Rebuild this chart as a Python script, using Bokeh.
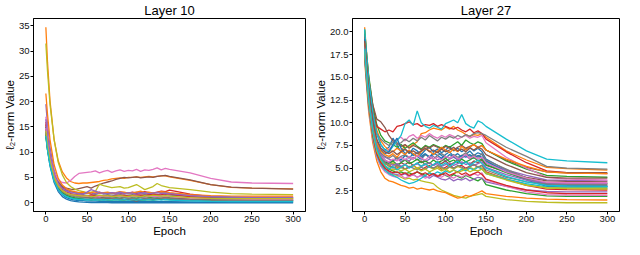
from bokeh.plotting import figure
from bokeh.layouts import row
from bokeh.models import FixedTicker, Range1d, PrintfTickFormatter
from bokeh.embed import file_html
from bokeh.resources import INLINE

# ---------------- data ----------------
EPOCHS = [0, 2, 5, 10, 15, 20, 25, 30, 35, 40,
          45, 50, 55, 60, 65, 70, 75, 80, 85, 90,
          95, 100, 105, 110, 115, 120, 125, 130, 135, 140,
          145, 150, 175, 200, 225, 250, 300]

TITLES = ["Layer 10", "Layer 27"]
X_LABEL = "Epoch"
Y_LABEL = "ℓ₂-norm Value"
X_TICKS = [0, 50, 100, 150, 200, 250, 300]
Y_TICKS_L10 = [0, 5, 10, 15, 20, 25, 30, 35]
Y_TICKS_L27 = [2.5, 5.0, 7.5, 10.0, 12.5, 15.0, 17.5, 20.0]

# Layer 10 series
l10_00 = [13.5, 10.5, 7.3, 4.0, 2.2, 1.2, 0.7, 0.4, 0.25, 0.15,
          0.1, 0.06, 0.04, 0.03, 0.02, 0.01, 0.01, 0.0, 0.0, 0.0,
          0.0, 0.0, 0.0, 0.0, 0.0, 0.0, 0.0, 0.0, 0.0, 0.0,
          0.0, 0.0, 0.0, 0.0, 0.0, 0.0, 0.0]
l10_01 = [34.7, 27.8, 20.2, 12.5, 8.3, 6.1, 4.9, 4.2, 3.9, 3.8,
          3.9, 3.9, 4.0, 4.1, 4.2, 4.4, 4.5, 4.7, 4.8, 4.9,
          4.8, 5.0, 5.0, 5.1, 5.0, 5.1, 5.2, 5.1, 5.2, 5.3,
          5.3, 5.1, 4.4, 3.6, 3.05, 2.9, 2.75]
l10_02 = [13.0, 10.5, 7.8, 4.8, 3.0, 2.0, 1.4, 1.0, 0.8, 0.7,
          0.6, 0.6, 0.5, 0.6, 0.5, 0.6, 0.5, 0.5, 0.6, 0.5,
          0.5, 0.6, 0.5, 0.6, 0.5, 0.5, 0.6, 0.5, 0.6, 0.7,
          0.6, 0.6, 0.5, 0.45, 0.4, 0.4, 0.4]
l10_03 = [16.0, 13.0, 9.5, 6.0, 4.0, 3.0, 2.5, 2.2, 2.0, 1.9,
          1.8, 2.0, 1.7, 1.9, 2.1, 1.8, 1.9, 2.0, 1.7, 1.8,
          2.0, 1.9, 2.1, 1.8, 2.0, 2.2, 2.0, 1.9, 2.1, 2.3,
          2.2, 2.5, 1.7, 1.2, 1.0, 0.95, 0.9]
l10_04 = [19.5, 15.5, 11.0, 6.5, 4.3, 3.2, 2.6, 2.3, 2.1, 2.0,
          1.9, 1.8, 2.0, 1.7, 1.9, 1.8, 2.0, 1.8, 1.7, 1.9,
          2.0, 1.8, 1.9, 2.1, 1.9, 1.8, 2.0, 1.9, 2.0, 2.1,
          2.0, 1.9, 1.5, 1.3, 1.15, 1.1, 1.1]
l10_05 = [15.0, 12.2, 9.0, 5.6, 3.9, 3.2, 2.9, 2.7, 2.6, 2.8,
          3.0, 3.2, 2.9, 3.3, 3.6, 3.9, 4.1, 4.3, 4.6, 4.8,
          5.0, 4.9, 5.0, 5.1, 4.9, 5.0, 5.1, 5.0, 5.2, 5.3,
          5.4, 5.2, 4.5, 3.6, 3.1, 2.9, 2.7]
l10_06 = [17.0, 13.5, 9.5, 6.0, 4.5, 4.0, 3.9, 4.4, 5.2, 5.8,
          5.9, 6.0, 6.1, 6.3, 5.9, 6.2, 6.4, 6.0, 6.3, 6.5,
          6.2, 6.4, 6.3, 6.6, 6.2, 6.5, 6.4, 6.6, 6.9, 6.5,
          6.8, 6.6, 5.9, 4.8, 4.1, 3.9, 3.8]
l10_07 = [14.0, 11.2, 8.2, 5.0, 3.3, 2.4, 2.0, 1.7, 1.6, 1.5,
          1.6, 1.4, 1.5, 1.6, 1.4, 1.5, 1.6, 1.5, 1.4, 1.6,
          1.5, 1.5, 1.6, 1.4, 1.5, 1.6, 1.5, 1.4, 1.6, 1.5,
          1.6, 1.5, 1.2, 1.05, 1.0, 1.0, 1.0]
l10_08 = [31.5, 26.0, 19.5, 12.5, 8.0, 5.5, 4.0, 3.2, 2.7, 2.4,
          2.2, 2.0, 2.1, 2.2, 3.7, 3.4, 3.2, 3.0, 3.1, 3.2,
          2.9, 3.0, 3.3, 3.6, 3.1, 2.6, 2.9, 3.2, 3.8, 3.4,
          3.2, 3.0, 2.6, 2.1, 1.8, 1.7, 1.6]
l10_09 = [15.0, 12.0, 8.6, 5.0, 3.0, 2.0, 1.4, 1.1, 0.9, 0.8,
          0.8, 0.7, 0.8, 0.7, 0.8, 0.7, 0.9, 0.8, 0.7, 0.8,
          0.7, 0.8, 0.9, 0.8, 0.7, 0.8, 0.7, 0.8, 0.9, 0.8,
          0.7, 0.8, 0.5, 0.35, 0.3, 0.3, 0.3]
l10_10 = [14.0, 11.0, 7.8, 4.4, 2.6, 1.6, 1.0, 0.7, 0.5, 0.4,
          0.4, 0.3, 0.3, 0.3, 0.25, 0.3, 0.25, 0.2, 0.25, 0.2,
          0.2, 0.25, 0.2, 0.2, 0.25, 0.2, 0.2, 0.25, 0.2, 0.2,
          0.2, 0.2, 0.15, 0.1, 0.1, 0.1, 0.1]
l10_11 = [21.6, 17.5, 12.5, 7.5, 4.8, 3.5, 2.8, 2.4, 2.2, 2.0,
          2.1, 1.9, 2.0, 2.2, 1.9, 2.0, 2.1, 1.9, 2.0, 2.2,
          2.1, 1.9, 2.0, 2.1, 2.3, 2.0, 2.1, 1.9, 2.0, 2.2,
          2.1, 2.0, 1.6, 1.4, 1.3, 1.3, 1.3]
l10_12 = [13.5, 10.8, 7.9, 4.8, 3.0, 2.0, 1.5, 1.2, 1.0, 0.9,
          1.0, 1.1, 0.9, 1.0, 1.2, 1.0, 0.9, 1.1, 1.0, 0.9,
          1.1, 1.2, 1.0, 0.9, 1.1, 1.2, 1.0, 1.1, 1.3, 1.2,
          1.1, 1.0, 0.7, 0.55, 0.5, 0.5, 0.5]
l10_13 = [15.5, 12.5, 9.0, 5.5, 3.6, 2.6, 2.1, 1.8, 1.6, 1.5,
          1.4, 1.3, 1.5, 1.4, 1.2, 1.3, 1.4, 1.2, 1.3, 1.4,
          1.5, 1.3, 1.4, 1.6, 1.5, 1.4, 1.6, 1.7, 1.5, 1.6,
          1.8, 1.7, 1.2, 0.9, 0.8, 0.8, 0.75]
l10_14 = [16.5, 13.2, 9.6, 5.8, 3.8, 2.8, 2.3, 2.0, 1.9, 1.8,
          1.7, 2.1, 2.6, 2.3, 2.0, 1.9, 1.8, 2.0, 1.9, 2.1,
          1.8, 2.0, 1.9, 1.7, 1.9, 2.0, 1.8, 1.9, 2.0, 1.8,
          1.9, 1.8, 1.4, 1.2, 1.1, 1.0, 1.0]
l10_15 = [14.5, 11.6, 8.4, 5.1, 3.3, 2.4, 1.9, 1.6, 1.4, 1.3,
          1.2, 1.1, 1.0, 1.1, 0.9, 1.0, 0.8, 0.9, 0.7, 0.8,
          0.6, 0.7, 0.5, 0.3, 0.6, 0.8, 0.7, 0.6, 0.8, 0.9,
          1.0, 0.9, 0.7, 0.6, 0.55, 0.5, 0.5]
l10_16 = [14.8, 11.8, 8.6, 5.2, 3.4, 2.4, 1.9, 1.6, 1.5, 1.4,
          1.3, 1.2, 1.3, 1.1, 1.2, 1.3, 1.2, 1.1, 1.2, 1.3,
          1.2, 1.1, 1.2, 1.3, 1.2, 1.1, 1.2, 1.3, 1.2, 1.3,
          1.2, 1.2, 0.9, 0.8, 0.75, 0.7, 0.7]
l10_17 = [13.8, 11.0, 8.0, 4.8, 3.1, 2.2, 1.7, 1.4, 1.2, 1.1,
          1.0, 0.9, 1.0, 0.9, 0.8, 0.9, 1.0, 0.9, 0.8, 0.9,
          1.0, 0.9, 0.8, 0.9, 1.0, 0.9, 0.8, 0.9, 1.0, 0.9,
          0.9, 0.8, 0.6, 0.5, 0.45, 0.4, 0.4]
l10_18 = [14.2, 11.4, 8.3, 5.0, 3.3, 2.4, 1.9, 1.6, 1.5, 1.4,
          1.3, 1.4, 1.2, 1.3, 1.5, 1.3, 1.4, 1.2, 1.3, 1.4,
          1.3, 1.2, 1.4, 1.3, 1.2, 1.4, 1.3, 1.5, 1.4, 1.3,
          1.4, 1.3, 1.0, 0.85, 0.8, 0.8, 0.8]
l10_19 = [13.2, 10.4, 7.4, 4.3, 2.6, 1.7, 1.2, 0.9, 0.7, 0.6,
          0.6, 0.5, 0.6, 0.5, 0.6, 0.5, 0.6, 0.5, 0.6, 0.5,
          0.6, 0.5, 0.6, 0.5, 0.6, 0.5, 0.6, 0.5, 0.6, 0.5,
          0.6, 0.5, 0.35, 0.25, 0.2, 0.2, 0.2]

# Layer 27 series
l27_00 = [19.8, 17.6, 14.5, 11.0, 8.8, 7.6, 7.0, 7.3, 8.3, 7.5,
          6.8, 7.1, 6.6, 7.2, 6.9, 6.5, 7.0, 7.3, 6.8, 7.1,
          6.7, 7.0, 7.4, 6.9, 7.2, 6.8, 7.1, 7.3, 6.9, 7.2,
          6.8, 6.0, 4.8, 3.9, 3.2, 3.1, 3.0]
l27_01 = [20.5, 18.2, 15.0, 11.5, 9.2, 8.0, 7.4, 7.0, 6.8, 7.2,
          6.9, 7.5, 7.3, 7.6, 7.9, 8.8, 8.9, 9.2, 9.4, 9.3,
          9.2, 9.5, 9.3, 9.6, 9.2, 9.0, 8.7, 8.5, 8.7, 8.6,
          8.8, 8.4, 6.9, 5.9, 5.1, 4.95, 4.8]
l27_02 = [20.2, 18.0, 15.2, 12.0, 9.8, 8.6, 8.0, 7.8, 7.6, 7.3,
          7.6, 7.2, 7.5, 7.8, 7.4, 7.1, 7.5, 7.3, 7.6, 7.4,
          7.2, 7.5, 7.3, 7.6, 7.9, 7.5, 8.1, 7.8, 7.6, 7.9,
          7.7, 7.0, 5.8, 4.9, 4.2, 4.1, 4.0]
l27_03 = [19.0, 16.8, 13.8, 11.2, 9.6, 9.3, 9.0, 9.2, 9.0, 9.6,
          9.7, 9.9, 10.1, 9.8, 9.9, 9.6, 9.8, 9.7, 9.9, 9.6,
          9.8, 9.6, 9.4, 9.3, 9.5, 9.2, 9.0, 9.3, 8.9, 9.1,
          8.8, 8.2, 6.8, 5.6, 4.7, 4.5, 4.4]
l27_04 = [18.8, 16.5, 13.2, 9.8, 7.6, 6.6, 6.2, 6.0, 5.8, 6.1,
          5.7, 6.0, 5.8, 6.2, 5.9, 6.1, 5.7, 6.0, 6.3, 5.9,
          6.1, 5.8, 6.0, 6.2, 5.9, 6.1, 6.4, 6.0, 6.2, 6.3,
          6.1, 5.6, 4.8, 4.2, 3.7, 3.65, 3.6]
l27_05 = [19.5, 17.5, 14.8, 12.0, 10.4, 10.1, 9.5, 8.6, 8.0, 7.8,
          7.4, 7.6, 7.2, 7.5, 7.3, 7.0, 7.4, 7.2, 7.5, 7.3,
          7.1, 7.4, 7.2, 7.0, 7.3, 7.5, 7.2, 7.4, 7.6, 7.3,
          7.5, 7.0, 5.9, 5.1, 4.6, 4.5, 4.5]
l27_06 = [18.5, 16.2, 13.0, 9.8, 8.0, 7.2, 6.8, 7.0, 7.6, 8.2,
          8.4, 8.0, 8.5, 8.7, 8.3, 8.6, 8.4, 8.8, 8.5, 8.3,
          8.6, 8.4, 8.7, 8.5, 8.2, 8.4, 8.6, 8.3, 8.5, 8.4,
          8.6, 7.8, 6.2, 5.0, 4.0, 3.8, 3.7]
l27_07 = [19.0, 16.8, 13.8, 10.5, 8.8, 8.2, 7.8, 7.5, 7.9, 7.6,
          7.8, 8.2, 7.9, 8.3, 8.0, 8.4, 8.1, 8.6, 8.3, 8.0,
          8.4, 8.2, 8.5, 8.3, 8.6, 8.4, 8.7, 8.5, 8.8, 8.9,
          8.8, 8.6, 7.3, 6.3, 5.2, 5.0, 4.9]
l27_08 = [17.5, 15.0, 11.8, 8.2, 6.2, 5.3, 4.8, 4.5, 4.3, 4.2,
          4.0, 3.8, 3.9, 3.7, 3.8, 3.6, 3.5, 3.4, 3.3, 2.9,
          2.6, 2.4, 2.2, 2.0, 1.9, 1.8, 1.7, 1.9, 2.0, 2.1,
          2.2, 1.9, 1.55, 1.35, 1.25, 1.2, 1.2]
l27_09 = [20.3, 18.0, 14.8, 11.2, 8.8, 7.6, 7.0, 6.8, 7.4, 8.0,
          8.6, 9.9, 10.3, 9.7, 11.3, 10.0, 9.6, 9.4, 9.7, 9.5,
          9.3, 9.9, 10.1, 10.3, 10.0, 10.9, 9.9, 9.6, 9.4, 10.2,
          10.0, 9.6, 8.2, 6.9, 6.0, 5.8, 5.6]
l27_10 = [18.5, 16.0, 12.8, 9.4, 7.4, 6.4, 5.9, 5.6, 5.8, 6.2,
          5.9, 6.4, 6.1, 6.6, 6.3, 6.0, 6.5, 6.2, 6.7, 6.4,
          6.1, 6.5, 6.8, 6.3, 6.6, 6.2, 6.5, 6.9, 6.4, 6.7,
          6.5, 5.8, 4.6, 3.7, 3.0, 2.9, 2.8]
l27_11 = [17.0, 14.5, 11.2, 7.8, 5.8, 4.6, 3.9, 3.6, 3.5, 3.3,
          3.1, 3.0, 2.8, 2.9, 2.7, 2.8, 2.7, 2.6, 2.7, 2.5,
          2.4, 2.3, 2.1, 1.9, 1.7, 1.8, 2.0, 1.9, 2.1, 2.3,
          2.5, 2.2, 1.9, 1.7, 1.6, 1.55, 1.5]
l27_12 = [17.8, 15.4, 12.2, 8.8, 6.8, 5.8, 5.2, 4.9, 4.7, 4.5,
          4.6, 4.4, 4.5, 4.3, 4.6, 4.4, 4.2, 4.5, 4.3, 4.1,
          4.4, 4.2, 4.0, 4.3, 4.1, 3.9, 4.2, 4.0, 3.8, 3.6,
          3.9, 3.2, 2.6, 2.2, 1.95, 1.9, 1.9]
l27_13 = [18.2, 15.8, 12.6, 9.2, 7.2, 6.2, 5.6, 5.3, 5.1, 5.0,
          5.2, 4.9, 5.1, 5.3, 5.0, 4.8, 5.1, 5.3, 5.0, 5.2,
          4.9, 5.1, 5.4, 5.0, 5.2, 5.3, 5.0, 5.2, 5.4, 5.1,
          5.3, 4.6, 3.8, 3.1, 2.7, 2.65, 2.6]
l27_14 = [17.8, 15.3, 12.0, 8.6, 6.6, 5.6, 5.0, 4.6, 4.4, 4.3,
          4.2, 4.4, 4.1, 4.3, 4.0, 4.2, 4.1, 3.9, 4.2, 4.0,
          3.8, 3.7, 3.9, 3.6, 3.8, 3.7, 3.9, 3.6, 3.8, 4.0,
          3.9, 3.5, 3.0, 2.6, 2.45, 2.4, 2.4]
l27_15 = [18.0, 15.6, 12.4, 9.0, 7.0, 6.0, 5.5, 5.3, 5.5, 5.2,
          5.6, 5.4, 5.7, 5.3, 5.5, 5.8, 5.4, 5.6, 5.3, 5.7,
          5.5, 5.8, 5.4, 5.6, 5.9, 5.5, 5.7, 5.4, 5.8, 5.6,
          5.9, 5.3, 4.6, 4.0, 3.6, 3.55, 3.5]
l27_16 = [17.2, 14.8, 11.6, 8.2, 6.2, 5.2, 4.6, 4.3, 4.1, 4.0,
          4.2, 3.9, 4.1, 4.3, 4.0, 4.2, 3.9, 4.1, 4.4, 4.2,
          4.0, 4.3, 4.1, 3.9, 4.2, 4.0, 4.3, 4.1, 4.4, 4.2,
          4.5, 3.7, 3.0, 2.4, 2.1, 2.05, 2.0]
l27_17 = [18.6, 16.2, 13.0, 9.6, 7.6, 6.7, 6.3, 6.1, 6.4, 6.0,
          6.3, 6.5, 6.2, 6.0, 6.4, 6.2, 6.5, 6.3, 6.0, 6.4,
          6.6, 6.3, 6.1, 6.5, 6.2, 6.4, 6.7, 6.3, 6.5, 6.2,
          6.6, 5.9, 4.9, 3.9, 3.3, 3.15, 3.1]
l27_18 = [17.6, 15.2, 12.0, 8.6, 6.6, 5.8, 5.5, 5.3, 5.6, 5.2,
          5.0, 5.4, 5.1, 5.3, 5.0, 5.2, 5.5, 5.1, 4.9, 5.2,
          5.0, 4.8, 5.1, 4.9, 5.2, 5.0, 4.8, 5.1, 4.9, 5.2,
          5.0, 4.5, 3.8, 3.2, 2.8, 2.75, 2.7]
l27_19 = [17.4, 15.0, 11.8, 8.4, 6.4, 5.4, 4.8, 4.4, 4.2, 4.0,
          3.7, 3.5, 3.3, 3.4, 3.6, 3.9, 4.2, 4.5, 4.3, 4.6,
          4.4, 4.7, 4.5, 4.8, 4.6, 4.9, 4.7, 5.0, 4.8, 5.1,
          4.9, 4.4, 3.8, 3.3, 2.95, 2.9, 2.9]
l27_20 = [19.2, 17.0, 13.8, 10.2, 8.0, 7.0, 6.6, 6.8, 7.6, 8.3,
          7.2, 6.6, 6.9, 6.4, 6.7, 6.3, 6.6, 6.2, 6.5, 6.8,
          6.4, 6.1, 6.5, 6.3, 6.0, 6.4, 6.2, 6.5, 6.1, 6.4,
          6.2, 5.6, 4.6, 3.8, 3.2, 3.05, 3.0]
l27_21 = [18.8, 16.5, 13.2, 9.8, 7.8, 6.9, 6.5, 6.3, 6.6, 6.2,
          6.8, 6.5, 7.0, 6.6, 6.3, 6.8, 7.2, 6.9, 6.5, 6.9,
          7.3, 7.0, 6.7, 7.1, 6.8, 7.4, 7.0, 7.3, 7.6, 7.2,
          7.5, 7.0, 6.0, 5.2, 4.6, 4.45, 4.4]
l27_22 = [18.0, 15.6, 12.4, 9.0, 7.0, 6.1, 5.7, 5.5, 5.8, 5.4,
          5.6, 5.9, 5.5, 5.7, 6.0, 5.6, 5.8, 5.5, 5.9, 5.6,
          5.8, 6.1, 5.7, 5.9, 5.6, 6.0, 5.7, 5.9, 6.2, 5.8,
          6.0, 5.4, 4.5, 3.8, 3.4, 3.3, 3.3]
l27_23 = [17.6, 15.2, 12.0, 8.6, 6.6, 5.6, 5.0, 4.7, 4.5, 4.6,
          4.3, 4.5, 4.2, 4.4, 4.6, 4.3, 4.5, 4.2, 4.4, 4.1,
          4.3, 4.5, 4.2, 4.4, 4.6, 4.3, 4.5, 4.2, 4.4, 4.6,
          4.3, 3.8, 3.1, 2.6, 2.3, 2.2, 2.2]
l27_24 = [18.4, 16.0, 12.8, 9.4, 7.4, 6.4, 5.9, 5.6, 5.3, 5.5,
          5.2, 5.4, 5.1, 5.3, 5.5, 5.2, 5.4, 5.6, 5.3, 5.5,
          5.2, 5.4, 5.6, 5.3, 5.5, 5.7, 5.4, 5.6, 5.3, 5.5,
          5.7, 5.1, 4.3, 3.7, 3.35, 3.3, 3.3]
l27_25 = [19.0, 16.8, 13.6, 10.2, 8.2, 7.2, 6.8, 6.6, 6.9, 6.5,
          6.8, 7.1, 6.7, 6.9, 6.6, 6.9, 7.2, 6.8, 7.0, 6.7,
          7.1, 6.8, 7.0, 7.3, 6.9, 7.1, 6.8, 7.2, 7.0, 7.3,
          7.1, 6.5, 5.4, 4.5, 4.0, 3.9, 3.9]
l27_26 = [18.2, 15.8, 12.6, 9.2, 7.2, 6.3, 5.9, 5.7, 6.0, 5.8,
          6.2, 5.9, 6.3, 6.0, 6.4, 6.1, 5.9, 6.3, 6.0, 6.2,
          5.9, 6.3, 6.1, 6.4, 6.0, 6.2, 6.5, 6.1, 6.3, 6.0,
          6.2, 5.6, 4.6, 3.9, 3.45, 3.4, 3.4]
l27_27 = [18.3, 15.9, 12.7, 9.3, 7.3, 6.2, 5.6, 5.2, 5.0, 5.3,
          5.1, 4.9, 5.2, 5.0, 4.8, 5.1, 4.9, 5.2, 5.0, 5.3,
          5.1, 4.9, 5.2, 5.0, 5.3, 5.1, 4.9, 5.2, 5.4, 5.1,
          5.3, 4.8, 4.0, 3.5, 3.25, 3.2, 3.2]
l27_28 = [17.9, 15.5, 12.3, 8.9, 6.9, 5.9, 5.3, 5.0, 4.8, 4.9,
          4.7, 4.9, 4.6, 4.8, 5.0, 4.7, 4.9, 4.6, 4.8, 5.0,
          4.7, 4.9, 4.6, 4.8, 4.5, 4.7, 4.9, 4.6, 4.8, 4.7,
          4.9, 4.4, 3.7, 3.1, 2.85, 2.8, 2.8]
l27_29 = [18.1, 15.7, 12.5, 9.1, 7.1, 6.0, 5.3, 4.9, 5.2, 4.8,
          5.1, 5.4, 5.0, 5.3, 5.6, 5.2, 5.5, 5.1, 5.4, 5.7,
          5.3, 5.6, 5.2, 5.5, 5.8, 5.4, 5.7, 5.3, 5.6, 5.9,
          5.5, 5.0, 4.1, 3.5, 3.1, 3.05, 3.0]

L10_SERIES = [l10_00, l10_01, l10_02, l10_03, l10_04, l10_05, l10_06, l10_07, l10_08, l10_09,
              l10_10, l10_11, l10_12, l10_13, l10_14, l10_15, l10_16, l10_17, l10_18, l10_19]
L27_SERIES = [l27_00, l27_01, l27_02, l27_03, l27_04, l27_05, l27_06, l27_07, l27_08, l27_09,
              l27_10, l27_11, l27_12, l27_13, l27_14, l27_15, l27_16, l27_17, l27_18, l27_19,
              l27_20, l27_21, l27_22, l27_23, l27_24, l27_25, l27_26, l27_27, l27_28, l27_29]

# ---------------- styling ----------------
TAB10 = ["#1f77b4", "#ff7f0e", "#2ca02c", "#d62728", "#9467bd",
         "#8c564b", "#e377c2", "#7f7f7f", "#bcbd22", "#17becf"]
FONT = "Liberation Sans"


def make_panel(title, series, yticks, width, min_left, min_right, fmt=None):
    ymin = min(min(s) for s in series)
    ymax = max(max(s) for s in series)
    span = ymax - ymin
    xspan = EPOCHS[-1] - EPOCHS[0]
    p = figure(width=width, height=239, output_backend="svg", toolbar_location=None,
               x_range=Range1d(EPOCHS[0] - 0.05 * xspan, EPOCHS[-1] + 0.05 * xspan),
               y_range=Range1d(ymin - 0.05 * span, ymax + 0.05 * span),
               min_border_left=min_left, min_border_right=min_right,
               min_border_top=0, min_border_bottom=0)
    for i, s in enumerate(series):
        p.line(EPOCHS, s, line_color=TAB10[i % 10], line_width=1.3)

    p.title.text = title
    p.title.text_font = FONT
    p.title.text_font_size = "13px"
    p.title.text_font_style = "normal"
    p.title.align = "center"
    p.title.text_color = "black"
    p.title.standoff = 1
    p.title.offset = 0

    p.xgrid.visible = False
    p.ygrid.visible = False
    p.outline_line_color = "black"
    p.outline_line_alpha = 1.0
    p.outline_line_width = 1

    p.xaxis.ticker = FixedTicker(ticks=X_TICKS)
    p.yaxis.ticker = FixedTicker(ticks=yticks)
    if fmt:
        p.yaxis.formatter = PrintfTickFormatter(format=fmt)
    p.xaxis.axis_label = X_LABEL
    p.yaxis.axis_label = Y_LABEL
    for ax in (p.xaxis, p.yaxis):
        ax.axis_label_text_font = FONT
        ax.axis_label_text_font_size = "11.5px"
        ax.axis_label_text_font_style = "normal"
        ax.axis_label_text_color = "black"
        ax.axis_label_standoff = 0
        ax.major_label_text_font = FONT
        ax.major_label_text_font_size = "9.5px"
        ax.major_label_text_color = "#111111"
        ax.major_label_standoff = 1
        ax.major_tick_in = 0
        ax.major_tick_out = 3
        ax.major_tick_line_color = "black"
        ax.minor_tick_line_color = None
        ax.axis_line_color = "black"
    return p


p1 = make_panel(TITLES[0], L10_SERIES, Y_TICKS_L10, 312, 0, 7)
p2 = make_panel(TITLES[1], L27_SERIES, Y_TICKS_L27, 312, 0, 5, fmt="%.1f")

p = row(p1, p2)
open("out.html", "w").write(file_html(p, INLINE))
